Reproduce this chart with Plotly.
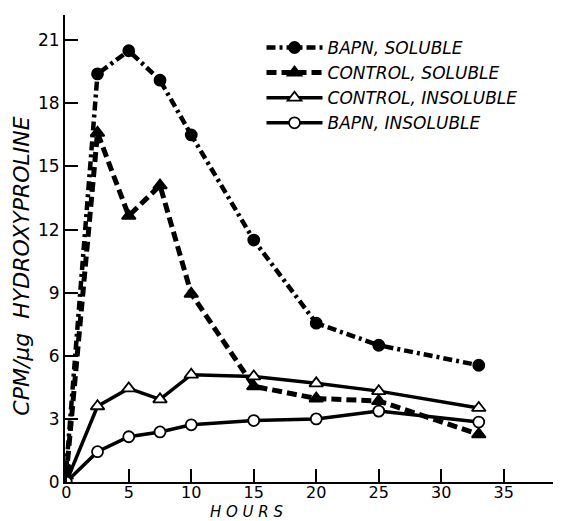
import plotly.graph_objects as go

hours = [0, 2.5, 5, 7.5, 10, 15, 20, 25, 33]
bapn_soluble = [0.6, 19.4, 20.5, 19.1, 16.5, 11.5, 7.55, 6.5, 5.55]
control_soluble = [0.3, 16.6, 12.65, 14.1, 8.95, 4.55, 3.97, 3.85, 2.27]
control_insoluble = [0, 3.6, 4.45, 3.93, 5.1, 5.02, 4.69, 4.32, 3.52]
bapn_insoluble = [0, 1.44, 2.15, 2.38, 2.72, 2.92, 3.0, 3.37, 2.85]

x_ticks = [0, 5, 10, 15, 20, 25, 30, 35]
y_ticks = [0, 3, 6, 9, 12, 15, 18, 21]

series = [
    ("BAPN, SOLUBLE", bapn_soluble, "circle", "black", "9px,4px,3px,4px", 4.5, "black"),
    ("CONTROL, SOLUBLE", control_soluble, "triangle-up", "black", "10px,5px", 5, "black"),
    ("CONTROL, INSOLUBLE", control_insoluble, "triangle-up", "black", "solid", 3.5, "white"),
    ("BAPN, INSOLUBLE", bapn_insoluble, "circle", "black", "solid", 3.5, "white"),
]

fig = go.Figure()
for name, vals, sym, col, dash, lw, fill in series:
    fig.add_trace(go.Scatter(
        x=hours, y=vals, name=name, mode="lines+markers",
        line=dict(color=col, width=lw, dash=dash),
        marker=dict(symbol=sym, size=11 if sym == "circle" else 12,
                    color=fill, line=dict(color="black", width=1.8)),
    ))

# page body has an 8px margin, so the figure is shrunk by that amount
fig.update_layout(
    width=553, height=513,
    margin=dict(l=57, r=1, t=7, b=39),
    paper_bgcolor="white", plot_bgcolor="white",
    font=dict(family="DejaVu Sans", color="black", size=15),
    showlegend=True,
    legend=dict(
        x=0.397, y=0.968, xanchor="left", yanchor="top",
        bgcolor="rgba(0,0,0,0)", itemwidth=56,
        font=dict(family="DejaVu Sans", size=17, style="italic", color="black"),
        tracegroupgap=0,
    ),
    xaxis=dict(
        range=[-0.1, 39.5], tickvals=x_ticks, ticktext=[str(v) for v in x_ticks],
        ticks="inside", ticklen=13, tickwidth=1.5, tickcolor="black",
        showline=True, linecolor="black", linewidth=2,
        showgrid=False, zeroline=False, automargin=False,
        tickfont=dict(size=16, color="black"), ticklabelstandoff=-5,
    ),
    yaxis=dict(
        range=[0, 22.2], tickvals=y_ticks, ticktext=[str(v) for v in y_ticks],
        ticks="inside", ticklen=13, tickwidth=1.5, tickcolor="black",
        showline=True, linecolor="black", linewidth=2,
        showgrid=False, zeroline=False, automargin=False,
        tickfont=dict(size=17, color="black"),
    ),
    annotations=[
        dict(text="H O U R S", x=0.368, y=-0.065, xref="paper", yref="paper",
             xanchor="center", yanchor="middle", showarrow=False,
             font=dict(size=15, style="italic", color="black")),
        dict(text="CPM/μg  HYDROXYPROLINE", x=-0.088, y=0.462, xref="paper", yref="paper",
             xanchor="center", yanchor="middle", showarrow=False, textangle=-90,
             font=dict(size=22, style="italic", color="black")),
    ],
)

fig.write_html("out.html")
